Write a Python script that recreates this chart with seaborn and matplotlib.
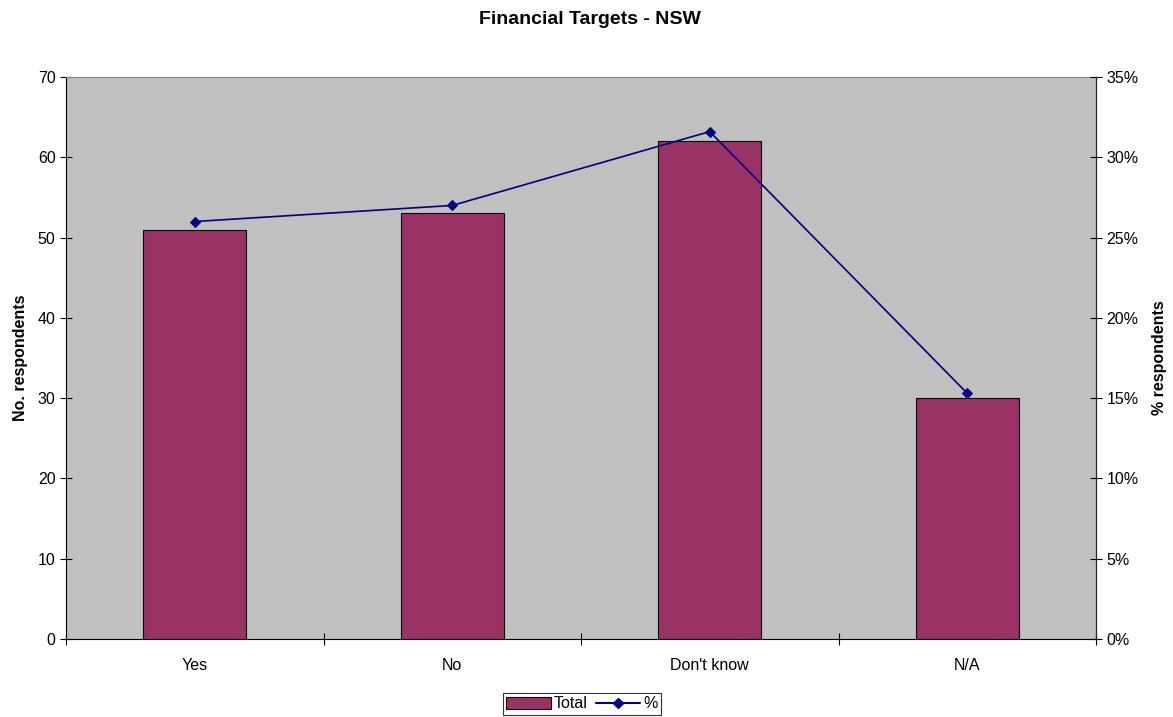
import seaborn as sns
import pandas as pd
import matplotlib.pyplot as plt
from matplotlib.ticker import PercentFormatter
from matplotlib.lines import Line2D
from matplotlib.patches import Patch

sns.set_style('white')
plt.rcParams['font.family'] = ['Liberation Sans', 'DejaVu Sans']
plt.rcParams['text.color'] = 'black'
plt.rcParams['axes.labelcolor'] = 'black'
plt.rcParams['xtick.color'] = 'black'
plt.rcParams['ytick.color'] = 'black'

categories = ['Yes', 'No', "Don't know", 'N/A']
totals = [51, 53, 62, 30]
percents = [26.0, 27.0, 31.6, 15.3]

datas = pd.DataFrame({'cat': categories, 'Total': totals, 'pct': percents})

fig = plt.figure(figsize=(11.73, 7.17), dpi=100)
ax = fig.add_axes([66 / 1173, 1 - 639 / 717, 1030 / 1173, 562 / 717])
ax.set_facecolor('#C0C0C0')

sns.barplot(x='cat', y='Total', data=datas, ax=ax, color='#993366',
            width=0.4, edgecolor='black', linewidth=0.8, saturation=1)
ax.set_ylim(0, 70)
ax.set_xlim(-0.5, 3.5)
ax.set_yticks(range(0, 71, 10))
ax.set_xticks([-0.5, 0.5, 1.5, 2.5, 3.5], minor=False)
ax.set_xticklabels([])
ax.set_xticks(range(4), minor=True)
ax.set_xticklabels(categories, minor=True)
ax.tick_params(axis='x', which='minor', bottom=True, length=0, pad=14, labelsize=11.5)
ax.tick_params(axis='x', which='major', bottom=True, direction='inout', length=8, width=0.8)
ax.tick_params(axis='y', left=True, direction='inout', length=8, width=0.8, labelsize=11.5)
ax.set_xlabel('')
ax.set_ylabel('No. respondents', fontsize=11.5, fontweight='bold', labelpad=7)
ax.spines['top'].set_color('#808080')
for s in ['left', 'bottom', 'right']:
    ax.spines[s].set_color('black')
    ax.spines[s].set_linewidth(0.8)

ax2 = ax.twinx()
sns.lineplot(x=range(4), y=percents, ax=ax2, color='#000080', marker='D',
             markersize=5, linewidth=1.2, markeredgecolor='#000080')
ax2.set_ylim(0, 35)
ax2.set_xlim(-0.5, 3.5)
ax2.set_yticks(range(0, 36, 5))
ax2.yaxis.set_major_formatter(PercentFormatter(decimals=0))
ax2.tick_params(axis='y', right=True, direction='inout', length=8, width=0.8, labelsize=11.5)
ax2.set_ylabel('% respondents', fontsize=11.5, fontweight='bold', labelpad=10)
for s in ['top', 'left', 'bottom']:
    ax2.spines[s].set_visible(False)

fig.suptitle('Financial Targets - NSW', x=590 / 1173, y=0.985,
             fontsize=14, fontweight='bold')

handles = [Patch(facecolor='#993366', edgecolor='black', linewidth=0.8),
           Line2D([], [], color='#000080', marker='D', markersize=5)]
leg = fig.legend(handles, ['Total', '%'], loc='center', bbox_to_anchor=(582 / 1173, 1 - 704 / 717),
                 ncol=2, frameon=True, fancybox=False, edgecolor='black', fontsize=11.5,
                 handlelength=2.8, handletextpad=0.2, columnspacing=0.5, borderpad=0.2)
leg.get_frame().set_linewidth(0.8)

fig.savefig('out.png', dpi=100)
